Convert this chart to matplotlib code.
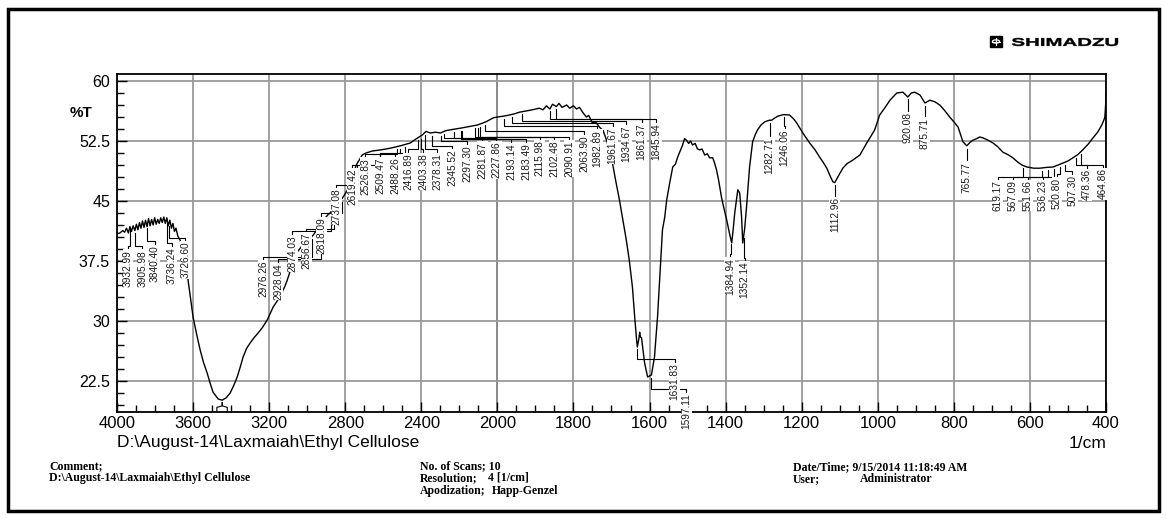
import numpy as np
import matplotlib
matplotlib.use('Agg')
import matplotlib.pyplot as plt
from matplotlib.patches import Rectangle, Circle, PathPatch
from matplotlib.textpath import TextPath
from matplotlib.font_manager import FontProperties
from matplotlib.transforms import Affine2D
from matplotlib.ticker import FixedLocator, FixedFormatter

# FTIR spectrum: wavenumber (1/cm) and transmittance (%T)
wavenumber = [
    4000, 3985, 3970, 3960, 3950, 3940, 3932, 3924, 3915, 3906, 3898, 3890,
    3882, 3874, 3866, 3858, 3850, 3842, 3834, 3826, 3818, 3810, 3802, 3794,
    3786, 3778, 3770, 3762, 3754, 3746, 3738, 3730, 3722, 3714, 3706, 3698,
    3690, 3680, 3668, 3656, 3645, 3632, 3616, 3600, 3580, 3563, 3545, 3526,
    3510, 3495, 3468, 3447, 3426, 3405, 3385, 3368, 3350, 3337, 3318, 3300,
    3280, 3258, 3235, 3211, 3195, 3179, 3155, 3132, 3118, 3105, 3079, 3053,
    3030, 3011, 2990, 2968, 2940, 2916, 2890, 2863, 2838, 2811, 2790, 2774,
    2758, 2742, 2725, 2711, 2690, 2658, 2610, 2563, 2510, 2458, 2425, 2395,
    2375, 2353, 2325, 2300, 2270, 2247, 2220, 2195, 2150, 2105, 2060, 2021,
    2000, 1985, 1968, 1955, 1942, 1925, 1908, 1890, 1880, 1871, 1862, 1855,
    1845, 1838, 1830, 1818, 1810, 1800, 1792, 1784, 1776, 1766, 1760, 1750,
    1742, 1732, 1722, 1713, 1700, 1690, 1679, 1670, 1661, 1653, 1645, 1639,
    1634, 1632, 1628, 1626, 1624, 1621, 1613, 1605, 1595, 1587, 1579, 1574,
    1566, 1560, 1555, 1547, 1539, 1532, 1526, 1520, 1513, 1508, 1503, 1497,
    1492, 1487, 1480, 1474, 1468, 1462, 1455, 1448, 1442, 1434, 1430, 1424,
    1418, 1411, 1404, 1397, 1390, 1384, 1380, 1376, 1368, 1363, 1358, 1355,
    1350, 1345, 1337, 1329, 1322, 1316, 1307, 1297, 1285, 1279, 1270, 1263,
    1248, 1232, 1220, 1213, 1197, 1179, 1165, 1153, 1143, 1134, 1125, 1118,
    1113, 1105, 1092, 1080, 1066, 1047, 1038, 1029, 1018, 1008, 995, 982,
    968, 950, 934, 921, 912, 903, 889, 876, 863, 850, 837, 824,
    811, 800, 789, 776, 766, 758, 750, 740, 732, 724, 710, 697,
    685, 671, 658, 645, 633, 621, 608, 590, 574, 556, 539, 526,
    513, 500, 487, 474, 461, 447, 434, 422, 411, 405, 403, 401, 400,
]
transmittance = [
    40.9, 41.0, 41.3, 41.1, 41.6, 41.0, 41.8, 41.2, 41.9, 41.3, 42.1, 41.4,
    42.3, 41.6, 42.5, 41.7, 42.6, 41.8, 42.8, 41.9, 42.7, 42.0, 42.9, 42.1,
    42.7, 42.2, 42.9, 42.3, 43.0, 42.2, 42.9, 41.9, 42.6, 41.6, 42.2, 41.2,
    41.6, 40.6, 40.1, 39.2, 38.6, 36.1, 33.3, 30.5, 28.2, 26.4, 24.8, 23.5,
    22.2, 21.1, 20.25, 20.1, 20.4, 21.0, 22.0, 23.0, 24.4, 25.5, 26.6, 27.25,
    27.9, 28.5, 29.2, 30.1, 30.9, 31.75, 32.6, 33.6, 34.3, 35.1, 37.0, 38.6,
    39.3, 39.75, 40.2, 40.75, 41.7, 42.6, 43.3, 43.9, 44.6, 45.5, 46.3, 47.0,
    48.3, 49.5, 50.2, 50.75, 51.0, 51.25, 51.4, 51.6, 51.9, 52.25, 52.8, 53.25,
    53.7, 53.5, 53.6, 53.5, 53.8, 53.9, 54.0, 54.1, 54.3, 54.5, 54.9, 55.4,
    55.5, 55.6, 55.75, 55.9, 56.1, 56.25, 56.4, 56.6, 56.4, 56.9, 56.5, 57.1,
    56.8, 57.2, 56.7, 57.0, 56.6, 56.9, 56.5, 56.7, 56.1, 55.5, 55.7, 54.75,
    54.9, 54.25, 53.8, 52.6, 50.4, 47.8, 45.1, 42.6, 40.1, 37.5, 34.25, 30.5,
    27.6, 26.75, 27.8, 28.6, 28.0, 27.9, 24.75, 23.0, 23.25, 25.5, 30.5, 34.75,
    41.4, 43.0, 45.1, 47.25, 49.25, 49.6, 50.5, 51.2, 52.0, 52.8, 52.6, 52.2,
    52.5, 52.0, 52.2, 51.5, 51.4, 51.5, 50.75, 50.9, 50.4, 50.4, 49.9, 48.9,
    47.5, 45.5, 44.0, 42.6, 41.0, 39.75, 41.5, 43.5, 46.4, 46.0, 43.0, 39.75,
    41.5, 44.25, 49.25, 52.4, 53.3, 53.9, 54.5, 54.9, 55.1, 55.1, 55.4, 55.6,
    55.8, 55.75, 55.2, 54.75, 53.5, 52.25, 51.4, 50.5, 49.8, 49.1, 48.1, 47.4,
    47.3, 48.0, 49.1, 49.7, 50.1, 50.75, 51.5, 52.25, 53.1, 53.9, 55.75, 56.6,
    57.6, 58.5, 58.6, 58.0, 58.5, 58.6, 58.25, 57.25, 57.6, 57.4, 57.0, 56.3,
    55.5, 54.9, 54.25, 52.4, 51.9, 52.3, 52.6, 52.8, 53.0, 52.9, 52.6, 52.25,
    51.8, 51.1, 50.8, 50.4, 49.9, 49.5, 49.25, 49.1, 49.1, 49.2, 49.25, 49.5,
    49.75, 50.0, 50.4, 50.8, 51.4, 52.1, 52.9, 53.6, 54.5, 55.2, 55.5, 57.0, 58.5,
]

# picked peaks
peak_labels = [
    '3932.99', '3905.98', '3840.40', '3736.24', '3726.60',
    '2976.26', '2928.04', '2874.03', '2856.67', '2818.09', '2737.08',
    '2619.42', '2526.83', '2509.47', '2488.26', '2416.89', '2403.38',
    '2378.31', '2345.52', '2297.30', '2281.87', '2227.86', '2193.14',
    '2183.49', '2115.98', '2102.48', '2090.91', '2063.90', '1982.89',
    '1961.67', '1934.67', '1861.37', '1845.94', '1631.83', '1597.11',
    '1384.94', '1352.14', '1282.71', '1246.06', '1112.96', '920.08',
    '875.71', '765.77', '619.17', '567.09', '551.66', '536.23', '520.80',
    '507.30', '478.36', '464.86',
]
# where each label is written: text centre (1/cm) and text top (%T)
label_x = [
    3942, 3868, 3800, 3711, 3642,
    3232, 3153, 3079, 3005, 2926, 2847,
    2763, 2695, 2616, 2537, 2468, 2389,
    2316, 2237, 2158, 2079, 2005, 1963,
    1924, 1889, 1850, 1811, 1771, 1737,
    1697, 1661, 1621, 1582, 1534, 1503,
    1389, 1350, 1284, 1245, 1113, 921,
    876, 766, 684, 645, 605, 566, 529,
    489, 450, 408,
]
label_top = [
    38.9, 38.9, 39.5, 39.25, 39.9,
    37.6, 37.25, 40.75, 41.1, 43.0, 46.6,
    49.1, 50.4, 50.5, 50.5, 51.0, 51.0,
    51.0, 51.4, 52.0, 52.4, 52.4, 52.25,
    52.25, 52.6, 52.6, 52.6, 53.25, 53.9,
    54.25, 54.5, 54.75, 54.75, 24.75, 21.0,
    37.9, 37.4, 53.0, 53.9, 45.5, 56.1,
    55.4, 49.9, 47.6, 47.6, 47.6, 47.6, 47.9,
    48.25, 49.0, 49.1,
]
# picks under the O-H band whose labels fall below the axis
hidden_peaks = [3475, 3420]

x_major = [4000, 3600, 3200, 2800, 2400, 2000, 1800, 1600, 1400, 1200, 1000, 800, 600, 400]
y_major = [22.5, 30, 37.5, 45, 52.5, 60]
y_major_text = ['22.5', '30', '37.5', '45', '52.5', '60']

W, H = 1167, 519


def fx(x):
    return x / W


def fy(y):
    return 1 - y / H


# the 4000-2000 region is shown at half the scale of 2000-400
def fwd(x):
    x = np.asarray(x, dtype=float)
    return np.where(x <= 2000, x, 2000 + (x - 2000) / 2)


def inv(t):
    t = np.asarray(t, dtype=float)
    return np.where(t <= 2000, t, 2000 + (t - 2000) * 2)


fig = plt.figure(figsize=(W / 100, H / 100), dpi=100)
fig.patch.set_facecolor('white')
ax = fig.add_axes([fx(117), fy(412), 989 / W, 338 / H])
ax.set_xscale('function', functions=(fwd, inv))
ax.set_xlim(4000, 400)
ax.set_ylim(18.625, 60.875)

ax.xaxis.set_major_locator(FixedLocator(x_major))
ax.xaxis.set_major_formatter(FixedFormatter([str(v) for v in x_major]))
x_minor = list(range(3900, 2000, -100)) + list(range(1950, 400, -50))
ax.xaxis.set_minor_locator(FixedLocator(x_minor))
ax.yaxis.set_major_locator(FixedLocator(y_major))
ax.yaxis.set_major_formatter(FixedFormatter(y_major_text))
ax.yaxis.set_minor_locator(FixedLocator(np.arange(19.5, 60.5, 1.5)))

ax.grid(True, which='major', color='#9a9a9a', lw=1.3, zorder=0)
ax.axvline(2000, color='black', lw=1.3, zorder=1)
ax.tick_params(axis='both', which='both', direction='in', width=1)
ax.tick_params(axis='both', which='major', length=7)
ax.tick_params(axis='both', which='minor', length=5)
ax.tick_params(axis='x', labelsize=12, pad=3)
ax.tick_params(axis='y', labelsize=11.5, pad=5)
for lab in ax.get_xticklabels() + ax.get_yticklabels():
    lab.set_family(['Liberation Sans', 'DejaVu Sans'])
for s in ax.spines.values():
    s.set_linewidth(1.3)

ax.plot(wavenumber, transmittance, color='black', lw=1.0, zorder=3)

# peak labels with their leader lines
wn_up = np.array(wavenumber[::-1], dtype=float)
tr_up = np.array(transmittance[::-1], dtype=float)
for text, lx, ltop in zip(peak_labels, label_x, label_top):
    px = float(text)
    py = np.interp(px, wn_up, tr_up)
    jog = ltop + 0.45
    ax.plot([px, px, lx, lx], [py - 0.35, jog, jog, ltop], color='black', lw=0.8, zorder=4)
    ax.text(lx, ltop, text, rotation=90, ha='center', va='top', fontsize=7.3,
            family=['Liberation Sans Narrow', 'Liberation Sans'], color='#1a1a1a',
            bbox=dict(facecolor='white', edgecolor='none', pad=0.3), zorder=5)

# leaders of the band-minimum picks run off the bottom of the frame
lowest = wn_up[np.argmin(tr_up)]
base = tr_up.min()
for hp in hidden_peaks:
    ax.plot([lowest, lowest, hp, hp], [base - 0.3, base - 0.7, base - 0.9, 18.0],
            color='black', lw=0.8, zorder=4)

# axis captions
sans = ['Liberation Sans', 'DejaVu Sans']
fig.text(fx(70), fy(113), '%T', fontsize=11, family=sans, weight='bold', va='center')
fig.text(fx(117), fy(443), r'D:\August-14\Laxmaiah\Ethyl Cellulose', fontsize=12.5,
         family=sans, va='center')
fig.text(fx(1107), fy(443), '1/cm', fontsize=12.5, family=sans, va='center', ha='right')

# instrument logo: boxed emblem and a wide bold wordmark
fig.patches.append(Rectangle((fx(990), fy(47)), 12 / W, 11 / H, transform=fig.transFigure,
                             facecolor='black', edgecolor='black'))
fig.patches.append(Circle((fx(996), fy(41.5)), 3.6 / W, transform=fig.transFigure,
                          facecolor='none', edgecolor='white', lw=0.9))
fig.lines.append(plt.Line2D([fx(996), fx(996)], [fy(45), fy(38)], transform=fig.transFigure,
                            color='white', lw=0.8))
fig.lines.append(plt.Line2D([fx(992.5), fx(999.5)], [fy(41.5), fy(41.5)],
                            transform=fig.transFigure, color='white', lw=0.8))
word = TextPath((0, 0), 'SHIMADZU', size=10,
                prop=FontProperties(family='Liberation Sans', weight='bold'))
ext = word.get_extents()
sx = 106 / ext.width
sy = 8 / ext.height
word_tf = Affine2D().translate(-ext.x0, -ext.y0).scale(sx / W, sy / H) \
    .translate(fx(1012), fy(46)) + fig.transFigure
fig.patches.append(PathPatch(word, transform=word_tf, facecolor='black', edgecolor='black',
                             lw=0.3))

# acquisition details
serif = ['Liberation Serif', 'DejaVu Serif']
foot = dict(fontsize=8.5, family=serif, weight='bold', va='center')
fig.text(fx(49), fy(466), 'Comment;', **foot)
fig.text(fx(49), fy(478), r'D:\August-14\Laxmaiah\Ethyl Cellulose', **foot)
fig.text(fx(420), fy(466), 'No. of Scans; 10', **foot)
fig.text(fx(420), fy(478), 'Resolution;', **foot)
fig.text(fx(488), fy(478), '4 [1/cm]', **foot)
fig.text(fx(420), fy(491), 'Apodization;', **foot)
fig.text(fx(492), fy(491), 'Happ-Genzel', **foot)
fig.text(fx(793), fy(467), 'Date/Time; 9/15/2014 11:18:49 AM', **foot)
fig.text(fx(793), fy(479), 'User;', **foot)
fig.text(fx(860), fy(479), 'Administrator', **foot)

# page frame
fig.patches.append(Rectangle((fx(8), fy(511)), 1151 / W, 502 / H, transform=fig.transFigure,
                             facecolor='none', edgecolor='black', lw=2.5))

fig.savefig('out.png', dpi=100)
